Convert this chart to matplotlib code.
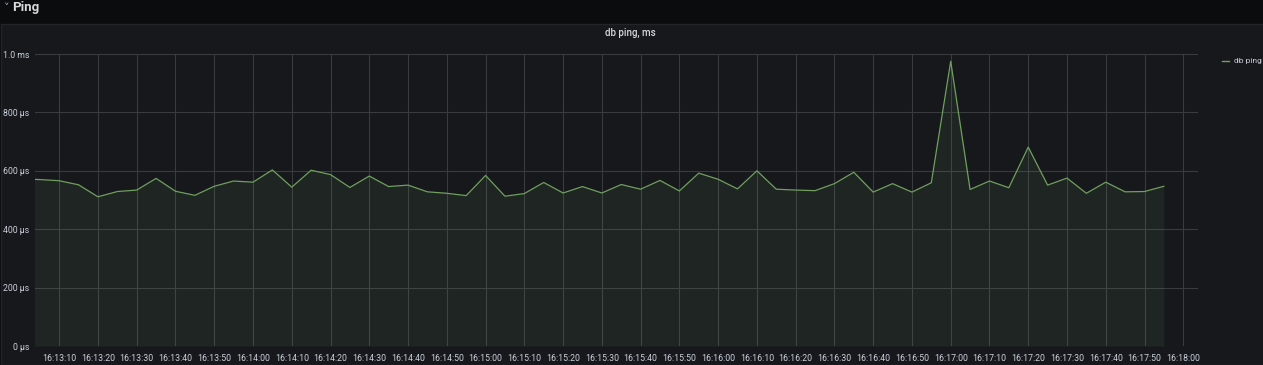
import pandas as pd
import matplotlib
matplotlib.use("Agg")
from matplotlib import pyplot as plt
import matplotlib.dates as mdates
from matplotlib.patches import Rectangle
from matplotlib.lines import Line2D

plt.rcParams['font.family'] = ['Roboto', 'DejaVu Sans']

# ping samples every 5 s, values in microseconds
times = pd.date_range("2020-01-01 16:13:00", "2020-01-01 16:17:55", freq="5s")
ping_us = [572, 570, 566, 552, 511, 529, 534, 574, 530, 516, 547, 565,
           561, 603, 544, 602, 587, 543, 582, 546, 551, 528, 523, 515,
           584, 513, 522, 560, 524, 546, 524, 553, 537, 567, 531, 592,
           571, 538, 600, 537, 534, 532, 556, 595, 527, 556, 527, 559,
           975, 536, 565, 542, 681, 551, 575, 523, 561, 528, 529, 547]
y_ticks = [0, 200, 400, 600, 800, 1000]
y_labels = ["0 µs", "200 µs", "400 µs", "600 µs", "800 µs", "1.0 ms"]
x_start = pd.Timestamp("2020-01-01 16:13:03.76")
x_end = pd.Timestamp("2020-01-01 16:18:03.8")

W, H = 1263, 365
outer_bg = "#0b0c0e"
panel_bg = "#17181c"
text_col = "#c7d0d9"
line_col = "#6fa05e"
grid_col = "#393b3f"

fig = plt.figure(figsize=(W / 100, H / 100), dpi=100, facecolor=outer_bg)

# panel box (behind the axes)
fig.patches.append(Rectangle((1 / W, 0), 1, (H - 24) / H, transform=fig.transFigure,
                             facecolor=panel_bg, edgecolor="#222428", lw=1, zorder=-10))

# row header
fig.text(4 / W, 1 - 8 / H, "˅", color="#9fa7b3", fontsize=8, va="center", family="DejaVu Sans")
fig.text(12 / W, 1 - 8 / H, "Ping", color="#d8d9da", fontsize=9.5, va="center", weight="bold")

# panel title
fig.text(630 / W, 1 - 33 / H, "db ping, ms", color="#d8d9da", fontsize=7, ha="center",
         va="center", weight="medium")

ax = fig.add_axes([35 / W, 19 / H, (1198 - 35) / W, (346 - 54) / H], zorder=2)
ax.set_facecolor(panel_bg)
ax.plot(times, ping_us, color=line_col, lw=0.9, zorder=3)
ax.fill_between(times, ping_us, 0, color=line_col, alpha=0.1, lw=0, zorder=2)

ax.set_xlim(x_start, x_end)
ax.set_ylim(0, 1000)
ax.set_yticks(y_ticks)
ax.set_yticklabels(y_labels)
ax.xaxis.set_major_locator(mdates.SecondLocator(bysecond=range(0, 60, 10)))
ax.xaxis.set_major_formatter(mdates.DateFormatter("%H:%M:%S"))

ax.grid(True, color=grid_col, lw=0.8, zorder=1)
ax.set_axisbelow(True)
for s in ax.spines.values():
    s.set_visible(False)
ax.tick_params(axis="both", length=0, colors=text_col, labelsize=6.3)
ax.tick_params(axis="x", pad=6)
ax.tick_params(axis="y", pad=4)

# legend on the right
fig.add_artist(Line2D([1222 / W, 1229 / W], [1 - 61 / H, 1 - 61 / H], color=line_col,
                      lw=1, transform=fig.transFigure))
fig.text(1234 / W, 1 - 61 / H, "db ping", color=text_col, fontsize=6, va="center")

plt.savefig("out.png", dpi=100, facecolor=outer_bg)
